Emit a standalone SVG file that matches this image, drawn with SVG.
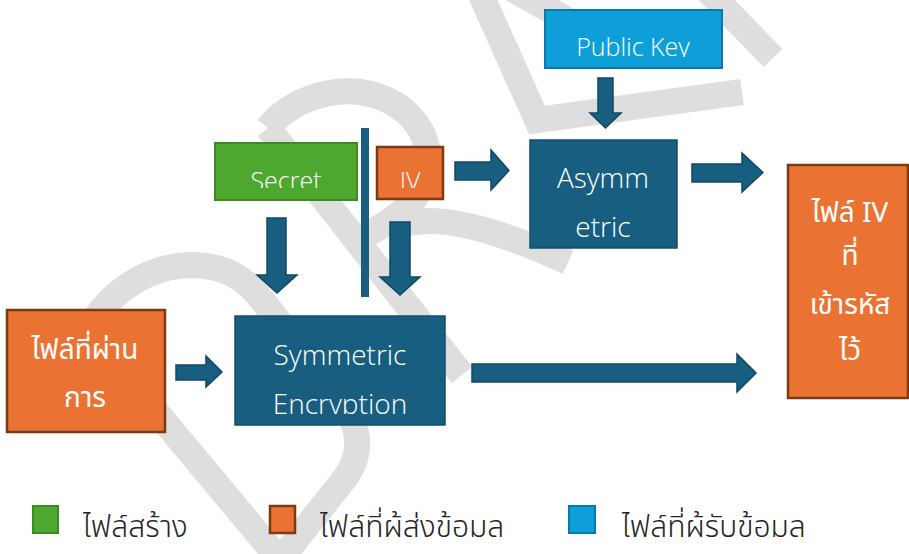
<svg xmlns="http://www.w3.org/2000/svg" width="909" height="554" viewBox="0 0 909 554">
  <style>
    .wm { fill: none; stroke: #dedede; stroke-width: 26; stroke-linejoin: miter; }
    .navy { fill: #175e81; stroke: #124f6d; stroke-width: 1.5; }
    .arrow { fill: #175e81; stroke: #0f4864; stroke-width: 1.5; }
    .orange { fill: #ea7334; stroke: #7e3910; stroke-width: 2.5; }
    .green { fill: #4ea72e; stroke: #3c8a22; stroke-width: 2; }
    .sky { fill: #0f9fd8; stroke: #0b79a7; stroke-width: 2; }
    .lbl { font-family: "Open Sans", "Noto Sans", sans-serif; font-weight: 300; fill: #ffffff; text-anchor: middle; }
    .th { font-family: "Noto Sans Thai", "Leelawadee UI", Tahoma, "DejaVu Sans", sans-serif; fill: #ffffff; text-anchor: middle; }
    .leg { font-family: "Noto Sans Thai", "DejaVu Sans", sans-serif; fill: #262626; font-weight: 300; }
  </style>
  <defs>
    <clipPath id="cutPK"><rect x="540" y="0" width="190" height="57"/></clipPath>
    <clipPath id="cutTop"><rect x="200" y="130" width="260" height="58"/></clipPath>
    <clipPath id="cutSym"><rect x="230" y="310" width="220" height="104"/></clipPath>
    <clipPath id="cutLeg"><rect x="0" y="495" width="909" height="44"/></clipPath>
  </defs>

  <rect width="909" height="554" fill="#ffffff"/>

  <!-- background watermark strokes -->
  <g id="watermark">
    <path class="wm" d="M 88 330 C 110 290 150 266 190 265 C 225 265 245 278 262 300 L 340 400 C 362 428 362 455 345 478 L 280 560 Z"/>
    <path class="wm" d="M 268 128 L 462 375"/>
    <path class="wm" d="M 268 128 C 290 100 330 88 360 92 C 400 98 428 125 428 160 C 428 190 410 215 348 244"/>
    <path class="wm" d="M 405 224 Q 455 210 568 262"/>
    <path class="wm" d="M 478 -12 L 537 120 L 742 92"/>
    <path class="wm" d="M 500 -18 L 635 58"/>
    <path class="wm" d="M 705 -12 L 773 58"/>
  </g>

  <!-- connectors -->
  <g id="connectors">
    <polygon class="arrow" points="598,78 613,78 613,113 621,113 605.5,128 590,113 598,113"/>
    <polygon class="arrow" points="455,162 491,162 491,150 509,170.5 491,190 491,180 455,180"/>
    <polygon class="arrow" points="692,164 742,164 742,153 763,172.5 742,192 742,182 692,182"/>
    <polygon class="arrow" points="267,218 286,218 286,275 297,275 277,293 257,275 267,275"/>
    <polygon class="arrow" points="390,222 410,222 410,277 420,277 400,295 380,277 390,277"/>
    <polygon class="arrow" points="176,365 206,365 206,356 222,372 206,387 206,380 176,380"/>
    <polygon class="arrow" points="472,364 737,364 737,354 756,373 737,392 737,382 472,382"/>
    <rect x="361" y="128" width="8" height="169" fill="#175e81"/>
  </g>

  <g id="public-key">
    <rect class="sky" x="545" y="10" width="177" height="58"/>
    <text class="lbl" x="633" y="56" font-size="25" clip-path="url(#cutPK)">Public Key</text>
  </g>

  <g id="asymmetric">
    <rect class="navy" x="530" y="140" width="147" height="108"/>
    <text class="lbl" x="603" y="188" font-size="28">Asymm</text>
    <text class="lbl" x="603" y="237" font-size="28">etric</text>
  </g>

  <g id="secret">
    <rect class="green" x="215" y="143" width="142" height="57"/>
    <text class="lbl" x="286" y="190" font-size="25" clip-path="url(#cutTop)">Secret</text>
  </g>

  <g id="iv">
    <rect class="orange" x="377" y="147" width="66" height="52"/>
    <text class="lbl" x="410" y="190" font-size="25" clip-path="url(#cutTop)">IV</text>
  </g>

  <g id="symmetric">
    <rect class="navy" x="235" y="316" width="210" height="109"/>
    <text class="lbl" x="340" y="365" font-size="28">Symmetric</text>
    <text class="lbl" x="340" y="414" font-size="28" clip-path="url(#cutSym)">Encryption</text>
  </g>

  <g id="input-file">
    <rect class="orange" x="7" y="310" width="158" height="122"/>
    <text class="th" x="85" y="359" font-size="28">ไฟล์ที่ผ่าน</text>
    <text class="th" x="85" y="407" font-size="28">การ</text>
  </g>

  <g id="encrypted-iv">
    <rect class="orange" x="788" y="165" width="120" height="233"/>
    <text class="th" x="850" y="222" font-size="28">ไฟล์ IV</text>
    <text class="th" x="850" y="265" font-size="28">ที่</text>
    <text class="th" x="850" y="314" font-size="28">เข้ารหัส</text>
    <text class="th" x="850" y="360" font-size="28">ไว้</text>
  </g>

  <g id="legend">
    <rect class="green" x="33" y="506" width="25" height="27"/>
    <text class="leg" x="83" y="537" font-size="30" clip-path="url(#cutLeg)">ไฟล์สร้าง</text>
    <rect class="orange" x="270" y="506" width="25" height="27"/>
    <text class="leg" x="320" y="537" font-size="30" clip-path="url(#cutLeg)">ไฟล์ที่ผู้ส่งข้อมูล</text>
    <rect class="sky" x="569" y="506" width="26" height="27"/>
    <text class="leg" x="622" y="537" font-size="30" clip-path="url(#cutLeg)">ไฟล์ที่ผู้รับข้อมูล</text>
  </g>
</svg>
